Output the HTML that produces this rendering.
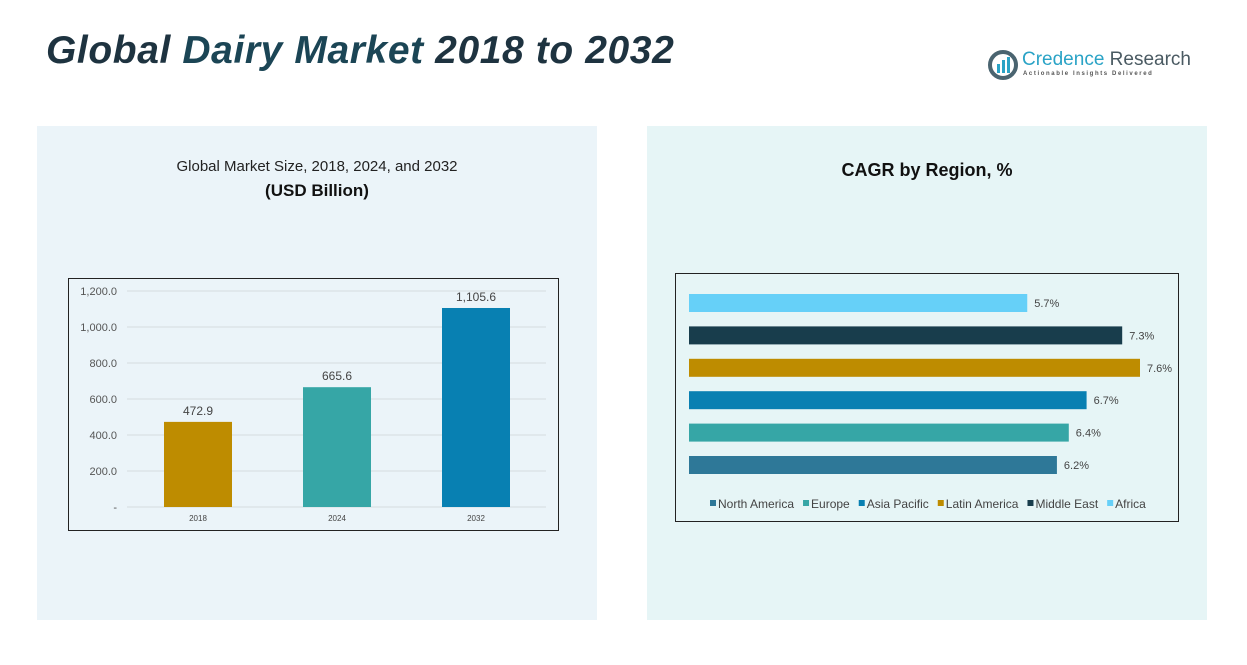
<!DOCTYPE html>
<html><head><meta charset="utf-8"><style>
body{margin:0;width:1247px;height:665px;background:#fff;font-family:"Liberation Sans",sans-serif;position:relative;overflow:hidden}
.abs{position:absolute}
</style></head><body>
<div class="abs" style="left:46px;top:29px;font-size:39px;font-weight:bold;font-style:italic;color:#1e3340;letter-spacing:0.6px">Global <span style="color:#1b4555">Dairy Market</span> 2018 to 2032</div>
<div class="abs" style="left:988px;top:48px;width:200px;height:40px">
<svg width="30" height="30" style="position:absolute;left:0;top:2px"><circle cx="15" cy="15" r="13" fill="none" stroke="#4a6470" stroke-width="4"/><rect x="9" y="14" width="3" height="9" fill="#2aa3c6"/><rect x="14" y="10" width="3" height="13" fill="#2aa3c6"/><rect x="19" y="7" width="3" height="16" fill="#2aa3c6"/></svg>
<div class="abs" style="left:34px;top:1px;font-size:19px;color:#2aa3c6;white-space:nowrap">Credence <span style="color:#4a5a62">Research</span></div>
<div class="abs" style="left:35px;top:23px;font-size:6px;letter-spacing:1.6px;color:#555;white-space:nowrap;font-weight:bold">Actionable Insights Delivered</div>
</div>
<div class="abs" style="left:37px;top:126px;width:560px;height:494px;background:#ebf4f9"></div>
<div class="abs" style="left:647px;top:126px;width:560px;height:494px;background:#e6f5f6"></div>
<div class="abs" style="left:37px;width:560px;top:158px;text-align:center;font-size:15px;color:#222">Global Market Size, 2018, 2024, and 2032</div>
<div class="abs" style="left:37px;width:560px;top:181px;text-align:center;font-size:17px;font-weight:bold;color:#111">(USD Billion)</div>
<div class="abs" style="left:647px;width:560px;top:160px;text-align:center;font-size:18px;font-weight:bold;color:#111">CAGR by Region, %</div>
<svg class="abs" style="left:0;top:0" width="1247" height="665" id="svg"></svg>
<script>
const years=["2018","2024","2032"];
const sizes=[472.9,665.6,1105.6];
const sizeLabels=["472.9","665.6","1,105.6"];
const yTicks=[0,200,400,600,800,1000,1200];
const yTickLabels=["-","200.0","400.0","600.0","800.0","1,000.0","1,200.0"];
const regions=["Africa","Middle East","Latin America","Asia Pacific","Europe","North America"];
const cagr=[5.7,7.3,7.6,6.7,6.4,6.2];
const legendOrder=["North America","Europe","Asia Pacific","Latin America","Middle East","Africa"];
const colors={"North America":"#2e7898","Europe":"#36a6a6","Asia Pacific":"#0880b2","Latin America":"#be8c00","Middle East":"#183d4c","Africa":"#66d0f8"};
const barColors=["#be8c00","#36a6a6","#0880b2"];
const NS="http://www.w3.org/2000/svg";
const svg=document.getElementById('svg');
function mk(t,a,p){const e=document.createElementNS(NS,t);for(const k in a)e.setAttribute(k,a[k]);(p||svg).appendChild(e);return e;}
const box=mk('rect',{x:68.5,y:278.5,width:490,height:252,fill:'none',stroke:'#222','stroke-width':1});


const y=v=>507-v/1200*216;
const x=i=>198+i*139;
yTicks.forEach((t,i)=>{
 const g=mk('line',{x1:127,x2:546,y1:y(t),y2:y(t),stroke:'#d6dde0','stroke-width':1});
 
 
 const l=mk('text',{x:117,y:y(t)+4,'text-anchor':'end','font-size':11,fill:'#555'});
 l.textContent=yTickLabels[i];
 
 
});
years.forEach((yr,i)=>{
 const b=mk('rect',{x:x(i)-34,y:y(sizes[i]),width:68,height:y(0)-y(sizes[i]),fill:barColors[i]});
 
 
 const v=mk('text',{x:x(i),y:y(sizes[i])-7,'text-anchor':'middle','font-size':12,fill:'#444'});
 v.textContent=sizeLabels[i];
 
 
 const c=mk('text',{x:x(i),y:521,'text-anchor':'middle','font-size':8,fill:'#444'});
 c.textContent=yr;
 
 
});
const box2=mk('rect',{x:675.5,y:273.5,width:503,height:248,fill:'none',stroke:'#222','stroke-width':1});


const hx=v=>689+v/7.6*451;
regions.forEach((r,i)=>{
 const yy=294+i*32.4;
 const b=mk('rect',{x:689,y:yy,width:hx(cagr[i])-689,height:18,fill:colors[r]});
 
 
 const t=mk('text',{x:hx(cagr[i])+7,y:yy+13,'font-size':11,fill:'#444'});
 t.textContent=cagr[i].toFixed(1)+'%';
 
 
});
let lx=710;
legendOrder.forEach(r=>{
 const m=mk('rect',{x:lx,y:500,width:6,height:6,fill:colors[r]});
 
 
 const t=mk('text',{x:lx+8,y:508,'font-size':12,fill:'#444'});
 t.textContent=r;
 
 
 lx+=8+t.getComputedTextLength()+9;
});
</script>
</body></html>
